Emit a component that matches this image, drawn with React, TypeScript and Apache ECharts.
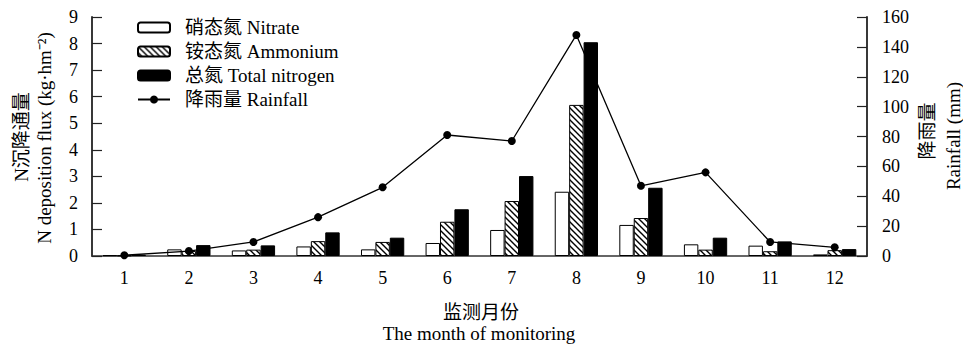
import React, { useEffect, useRef } from "react";
import * as echarts from "echarts";

const months = ["1", "2", "3", "4", "5", "6", "7", "8", "9", "10", "11", "12"];
const nitrate = [0.03, 0.25, 0.21, 0.36, 0.25, 0.49, 0.98, 2.42, 1.17, 0.44, 0.39, 0.06];
const ammonium = [0.02, 0.19, 0.24, 0.56, 0.53, 1.29, 2.07, 5.69, 1.43, 0.24, 0.18, 0.22];
const totalN = [0.05, 0.41, 0.4, 0.89, 0.69, 1.76, 3.01, 8.05, 2.57, 0.69, 0.55, 0.26];
const rainfall = [0.5, 3.3, 9.4, 26, 46, 81, 77, 148, 47, 56, 9.4, 5.8];

const legendNames = ["硝态氮 Nitrate", "铵态氮 Ammonium", "总氮 Total nitrogen", "降雨量 Rainfall"];
const yLeftName = ["N沉降通量", "N deposition flux (kg·hm⁻²)"];
const yRightName = ["降雨量", "Rainfall (mm)"];
const xName = ["监测月份", "The month of monitoring"];

const FONT = "'Liberation Serif', 'Noto Sans CJK SC', serif";

function makeHatch(): HTMLCanvasElement {
  const c = document.createElement("canvas");
  c.width = 6;
  c.height = 6;
  const ctx = c.getContext("2d")!;
  ctx.fillStyle = "#fff";
  ctx.fillRect(0, 0, 6, 6);
  ctx.strokeStyle = "#000";
  ctx.lineWidth = 1.4;
  ctx.beginPath();
  ctx.moveTo(-1, -1);
  ctx.lineTo(7, 7);
  ctx.moveTo(-1, 5);
  ctx.lineTo(1, 7);
  ctx.moveTo(5, -1);
  ctx.lineTo(7, 1);
  ctx.stroke();
  return c;
}

export default function App() {
  const ref = useRef<HTMLDivElement>(null);
  useEffect(() => {
    if (!ref.current) return;
    const chart = echarts.init(ref.current, undefined, { renderer: "svg" });
    const hatch = makeHatch();
    const axisLabelStyle = { fontFamily: FONT, fontSize: 18, color: "#000" };
    const nameStyle = { fontFamily: FONT, fontSize: 19, fill: "#000", align: "center", verticalAlign: "middle" };
    chart.setOption({
      animation: false,
      backgroundColor: "#fff",
      textStyle: { fontFamily: FONT },
      grid: { left: 92, right: 96, top: 17, bottom: 91, containLabel: false },
      legend: {
        orient: "vertical",
        left: 132,
        top: 13,
        itemWidth: 32,
        itemHeight: 10,
        itemGap: 5,
        textStyle: { fontFamily: FONT, fontSize: 19, color: "#000", padding: [0, 0, 0, 10] },
        data: legendNames,
      },
      xAxis: {
        type: "category",
        data: months,
        boundaryGap: true,
        axisLine: { lineStyle: { color: "#333", width: 1.5 } },
        axisTick: { inside: true, length: 7, lineStyle: { color: "#333", width: 1.2 } },
        axisLabel: { ...axisLabelStyle, margin: 13 },
      },
      yAxis: [
        {
          type: "value",
          min: 0,
          max: 9,
          interval: 1,
          splitLine: { show: false },
          axisLine: { show: true, lineStyle: { color: "#222", width: 1.8 } },
          axisTick: { show: true, inside: true, length: 10, lineStyle: { color: "#222", width: 1.2 } },
          axisLabel: { ...axisLabelStyle, margin: 14 },
        },
        {
          type: "value",
          min: 0,
          max: 160,
          interval: 20,
          position: "right",
          splitLine: { show: false },
          axisLine: { show: true, lineStyle: { color: "#222", width: 1.8 } },
          axisTick: { show: true, inside: true, length: 10, lineStyle: { color: "#222", width: 1.2 } },
          axisLabel: { ...axisLabelStyle, margin: 15 },
        },
      ],
      series: [
        {
          name: legendNames[0],
          type: "bar",
          data: nitrate,
          barGap: "0%",
          barCategoryGap: "33%",
          itemStyle: { color: "#fff", borderColor: "#000", borderWidth: 1 },
        },
        {
          name: legendNames[1],
          type: "bar",
          data: ammonium,
          barGap: "0%",
          barCategoryGap: "33%",
          itemStyle: { color: { image: hatch, repeat: "repeat" }, borderColor: "#000", borderWidth: 1 },
        },
        {
          name: legendNames[2],
          type: "bar",
          data: totalN,
          barGap: "0%",
          barCategoryGap: "33%",
          itemStyle: { color: "#000", borderColor: "#000", borderWidth: 1 },
        },
        {
          name: legendNames[3],
          type: "line",
          yAxisIndex: 1,
          data: rainfall,
          symbol: "circle",
          symbolSize: 8,
          z: 5,
          lineStyle: { color: "#000", width: 1.3 },
          itemStyle: { color: "#000" },
        },
      ],
      graphic: [
        { type: "text", x: 21, y: 137, rotation: Math.PI / 2, style: { ...nameStyle, text: yLeftName[0] } },
        { type: "text", x: 44, y: 138, rotation: Math.PI / 2, style: { ...nameStyle, text: yLeftName[1] } },
        { type: "text", x: 927, y: 131, rotation: Math.PI / 2, style: { ...nameStyle, text: yRightName[0] } },
        { type: "text", x: 953, y: 136, rotation: Math.PI / 2, style: { ...nameStyle, text: yRightName[1] } },
        { type: "text", x: 481, y: 312, style: { ...nameStyle, text: xName[0] } },
        { type: "text", x: 479, y: 333, style: { ...nameStyle, text: xName[1] } },
      ],
    });
    return () => chart.dispose();
  }, []);
  return <div ref={ref} style={{ width: 963, height: 347, position: "absolute", left: 0, top: 0 }} />;
}
